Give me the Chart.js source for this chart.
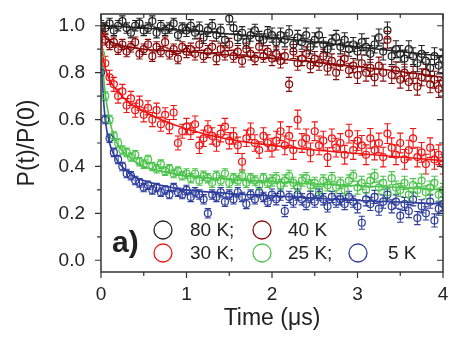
<!DOCTYPE html>
<html>
<head>
<meta charset="utf-8">
<script src="https://cdn.jsdelivr.net/npm/chart.js@4.4.1/dist/chart.umd.min.js"></script>
<style>
    body { margin: 0; background: #fff; }
    canvas { display: block; }
</style>
</head>
<body>
<canvas id="decay-chart" width="451" height="340"></canvas>
<script>
// time axis of the measured points (us)
const times = [0, 0.05, 0.1, 0.15, 0.2, 0.25, 0.3, 0.35, 0.4, 0.45, 0.5, 0.55, 0.6, 0.65, 0.7, 0.75, 0.8, 0.85, 0.9, 0.95, 1,
    1.05, 1.1, 1.15, 1.2, 1.25, 1.3, 1.35, 1.4, 1.45, 1.5, 1.55, 1.6, 1.65, 1.7, 1.75, 1.8, 1.85, 1.9, 1.95, 2,
    2.05, 2.1, 2.15, 2.2, 2.25, 2.3, 2.35, 2.4, 2.45, 2.5, 2.55, 2.6, 2.65, 2.7, 2.75, 2.8, 2.85, 2.9, 2.95, 3,
    3.05, 3.1, 3.15, 3.2, 3.25, 3.3, 3.35, 3.4, 3.45, 3.5, 3.55, 3.6, 3.65, 3.7, 3.75, 3.8, 3.85, 3.9, 3.95, 4];

const p80K = [1.00, 0.99, 1.01, 0.98, 1.00, 1.02, 0.99, 0.97, 1.00, 1.01, 0.98, 0.99, 1.02, 0.97, 1.00, 0.98, 0.99, 1.01, 0.96, 0.99, 0.98,
    1.00, 0.97, 0.99, 0.95, 0.98, 1.00, 0.96, 0.98, 0.94, 1.03, 0.99, 0.95, 0.97, 0.93, 0.96, 0.98, 0.95, 0.94, 0.97, 0.96,
    0.93, 0.96, 0.94, 0.97, 0.92, 0.95, 0.93, 0.96, 0.91, 0.94, 0.96, 0.92, 0.90, 0.93, 0.95, 0.91, 0.94, 0.90, 0.92, 0.89,
    0.93, 0.91, 0.88, 0.92, 0.95, 0.89, 0.98, 0.87, 0.90, 0.88, 0.86, 0.90, 0.87, 0.84, 0.88, 0.85, 0.82, 0.87, 0.83, 0.86];
const p40K = [0.99, 0.94, 0.92, 0.93, 0.90, 0.92, 0.89, 0.91, 0.93, 0.88, 0.90, 0.92, 0.87, 0.91, 0.89, 0.93, 0.88, 0.90, 0.86, 0.91, 0.89,
    0.90, 0.88, 0.92, 0.87, 0.89, 0.91, 0.86, 0.90, 0.88, 0.92, 0.87, 0.89, 0.85, 0.90, 0.88, 0.86, 0.91, 0.87, 0.89, 0.86,
    0.88, 0.85, 0.87, 0.75, 0.89, 0.84, 0.86, 0.88, 0.83, 0.86, 0.84, 0.87, 0.82, 0.85, 0.80, 0.84, 0.86, 0.81, 0.83, 0.79,
    0.84, 0.80, 0.82, 0.78, 0.83, 0.80, 0.94, 0.79, 0.81, 0.77, 0.80, 0.76, 0.79, 0.74, 0.78, 0.80, 0.75, 0.77, 0.73, 0.76];
const p30K = [0.97, 0.84, 0.78, 0.75, 0.70, 0.72, 0.66, 0.69, 0.64, 0.67, 0.62, 0.65, 0.60, 0.64, 0.58, 0.62, 0.57, 0.63, 0.50, 0.55, 0.57,
    0.55, 0.58, 0.49, 0.52, 0.56, 0.53, 0.50, 0.54, 0.57, 0.51, 0.53, 0.49, 0.42, 0.52, 0.55, 0.50, 0.47, 0.53, 0.50, 0.48,
    0.51, 0.55, 0.49, 0.53, 0.47, 0.60, 0.50, 0.52, 0.46, 0.55, 0.49, 0.51, 0.44, 0.52, 0.48, 0.50, 0.45, 0.54, 0.47, 0.51,
    0.49, 0.45, 0.52, 0.47, 0.50, 0.44, 0.54, 0.48, 0.45, 0.50, 0.43, 0.47, 0.52, 0.44, 0.46, 0.41, 0.48, 0.43, 0.45, 0.41];
const p25K = [0.88, 0.70, 0.60, 0.53, 0.50, 0.47, 0.46, 0.44, 0.45, 0.42, 0.41, 0.43, 0.40, 0.39, 0.41, 0.38, 0.39, 0.37, 0.38, 0.36, 0.37,
    0.35, 0.37, 0.34, 0.36, 0.35, 0.33, 0.36, 0.34, 0.37, 0.33, 0.35, 0.34, 0.36, 0.33, 0.35, 0.34, 0.32, 0.35, 0.33, 0.34,
    0.35, 0.32, 0.34, 0.36, 0.33, 0.31, 0.34, 0.35, 0.32, 0.33, 0.30, 0.34, 0.32, 0.35, 0.31, 0.33, 0.30, 0.34, 0.36, 0.31,
    0.33, 0.30, 0.34, 0.36, 0.31, 0.33, 0.29, 0.35, 0.31, 0.30, 0.33, 0.28, 0.32, 0.30, 0.34, 0.29, 0.31, 0.33, 0.28, 0.30];
const p5K = [0.80, 0.60, 0.52, 0.46, 0.43, 0.40, 0.37, 0.36, 0.34, 0.33, 0.31, 0.32, 0.30, 0.31, 0.29, 0.30, 0.28, 0.31, 0.29, 0.28, 0.30,
    0.27, 0.29, 0.28, 0.26, 0.20, 0.28, 0.27, 0.29, 0.25, 0.28, 0.26, 0.29, 0.27, 0.24, 0.28, 0.26, 0.29, 0.27, 0.25, 0.28,
    0.26, 0.28, 0.21, 0.27, 0.25, 0.28, 0.26, 0.24, 0.27, 0.25, 0.28, 0.26, 0.23, 0.27, 0.25, 0.26, 0.24, 0.27, 0.25, 0.23,
    0.16, 0.26, 0.24, 0.27, 0.22, 0.25, 0.28, 0.23, 0.25, 0.19, 0.24, 0.21, 0.26, 0.18, 0.23, 0.20, 0.25, 0.17, 0.22, 0.24];

// error bar half-heights for t in [0,1), [1,2), [2,3), [3,4]
const err80K = [0.022, 0.026, 0.030, 0.036];
const err40K = [0.022, 0.026, 0.030, 0.036];
const err30K = [0.030, 0.035, 0.040, 0.042];
const err25K = [0.018, 0.020, 0.024, 0.028];
const err5K = [0.018, 0.020, 0.024, 0.028];

// fitted curves
const fitTimes = [0, 0.02, 0.05, 0.1, 0.15, 0.2, 0.3, 0.4, 0.5, 0.7, 1.0, 1.5, 2, 2.5, 3, 3.5, 4];
const fit80K = [1.0, 1.0, 1.0, 0.999, 0.998, 0.997, 0.995, 0.993, 0.99, 0.985, 0.98, 0.965, 0.95, 0.93, 0.91, 0.89, 0.87];
const fit40K = [1.0, 0.97, 0.95, 0.935, 0.925, 0.92, 0.91, 0.905, 0.90, 0.895, 0.89, 0.875, 0.86, 0.845, 0.825, 0.805, 0.78];
const fit30K = [1.0, 0.88, 0.82, 0.77, 0.74, 0.72, 0.68, 0.655, 0.635, 0.60, 0.56, 0.515, 0.49, 0.47, 0.455, 0.44, 0.425];
const fit25K = [1.0, 0.83, 0.71, 0.60, 0.53, 0.49, 0.45, 0.42, 0.40, 0.38, 0.36, 0.345, 0.335, 0.325, 0.318, 0.31, 0.30];
const fit5K = [1.0, 0.75, 0.60, 0.50, 0.45, 0.42, 0.38, 0.355, 0.34, 0.32, 0.30, 0.285, 0.275, 0.265, 0.255, 0.248, 0.24];

const xTicks = [0, 1, 2, 3, 4];
const yTicks = [0.0, 0.2, 0.4, 0.6, 0.8, 1.0];

const series = [
    { label: '80 K;', values: p80K, err: err80K, fit: fit80K, color: '#222222' },
    { label: '40 K', values: p40K, err: err40K, fit: fit40K, color: '#8a0a0a' },
    { label: '30 K;', values: p30K, err: err30K, fit: fit30K, color: '#f01414' },
    { label: '25 K;', values: p25K, err: err25K, fit: fit25K, color: '#4cc44c' },
    { label: '5 K', values: p5K, err: err5K, fit: fit5K, color: '#2e3e9c' }
];

const textColor = '#222';
const fontFamily = '"Liberation Sans", Arial, sans-serif';

function toPoints(xs, ys) {
    return xs.map((x, i) => ({ x: x, y: ys[i] }));
}

const datasets = [];
series.forEach(s => {
    datasets.push({
        label: s.label,
        type: 'scatter',
        data: toPoints(times, s.values),
        errors: s.err,
        borderColor: s.color,
        backgroundColor: 'rgba(255,255,255,0)',
        pointRadius: 3.5,
        pointBorderWidth: 1.2,
        showLine: false
    });
});
series.forEach(s => {
    datasets.push({
        label: s.label + ' fit',
        type: 'line',
        data: toPoints(fitTimes, s.fit),
        borderColor: s.color,
        borderWidth: 1.6,
        pointRadius: 0,
        fill: false,
        cubicInterpolationMode: 'monotone'
    });
});

// error bars drawn under the circles
const errorBars = {
    id: 'errorBars',
    beforeDatasetsDraw(chart) {
        const ctx = chart.ctx;
        const yScale = chart.scales.y;
        const area = chart.chartArea;
        ctx.save();
        ctx.beginPath();
        ctx.rect(area.left, area.top, area.right - area.left, area.bottom - area.top);
        ctx.clip();
        chart.data.datasets.forEach((ds, di) => {
            if (!ds.errors) return;
            const meta = chart.getDatasetMeta(di);
            ctx.strokeStyle = ds.borderColor;
            ctx.lineWidth = 1.1;
            meta.data.forEach((pt, i) => {
                const d = ds.data[i];
                const e = ds.errors[Math.min(3, Math.floor(d.x))];
                const yTop = yScale.getPixelForValue(d.y + e);
                const yBot = yScale.getPixelForValue(d.y - e);
                ctx.beginPath();
                ctx.moveTo(pt.x, yTop);
                ctx.lineTo(pt.x, yBot);
                ctx.moveTo(pt.x - 3.2, yTop);
                ctx.lineTo(pt.x + 3.2, yTop);
                ctx.moveTo(pt.x - 3.2, yBot);
                ctx.lineTo(pt.x + 3.2, yBot);
                ctx.stroke();
            });
        });
        ctx.restore();
    }
};

// frame, tick marks, legend and panel label
const decorations = {
    id: 'decorations',
    afterDraw(chart) {
        const ctx = chart.ctx;
        const a = chart.chartArea;
        const xs = chart.scales.x;
        const ys = chart.scales.y;
        ctx.save();
        ctx.strokeStyle = '#333';
        ctx.lineWidth = 1.5;
        ctx.strokeRect(a.left, a.top, a.right - a.left, a.bottom - a.top);

        ctx.lineWidth = 1.2;
        ctx.beginPath();
        for (let t = 0; t <= 4.001; t += 0.5) {
            const px = xs.getPixelForValue(t);
            const len = Math.abs(t - Math.round(t)) < 0.01 ? 6 : 4;
            ctx.moveTo(px, a.bottom);
            ctx.lineTo(px, a.bottom + len);
            ctx.moveTo(px, a.top);
            ctx.lineTo(px, a.top + len);
        }
        for (let k = 0; k <= 10; k++) {
            const py = ys.getPixelForValue(k / 10);
            const len = k % 2 === 0 ? 6 : 4;
            ctx.moveTo(a.left, py);
            ctx.lineTo(a.left - len, py);
            ctx.moveTo(a.right, py);
            ctx.lineTo(a.right - len, py);
        }
        ctx.stroke();

        // legend
        const rows = [
            [{ s: series[0], cx: 163, tx: 190 }, { s: series[1], cx: 262, tx: 288 }],
            [{ s: series[2], cx: 163, tx: 190 }, { s: series[3], cx: 262, tx: 288 }, { s: series[4], cx: 358, tx: 388 }]
        ];
        const rowY = [230, 253];
        ctx.font = '19px ' + fontFamily;
        ctx.textBaseline = 'middle';
        ctx.textAlign = 'left';
        rows.forEach((row, r) => {
            row.forEach(item => {
                ctx.strokeStyle = item.s.color;
                ctx.lineWidth = 1.3;
                ctx.beginPath();
                ctx.arc(item.cx, rowY[r], 9, 0, Math.PI * 2);
                ctx.stroke();
                ctx.fillStyle = textColor;
                ctx.fillText(item.s.label, item.tx, rowY[r] + 1);
            });
        });

        ctx.font = 'bold 30px ' + fontFamily;
        ctx.textBaseline = 'alphabetic';
        ctx.fillStyle = textColor;
        ctx.fillText('a)', 112, 252);
        ctx.restore();
    }
};

new Chart(document.getElementById('decay-chart').getContext('2d'), {
    type: 'scatter',
    data: { datasets: datasets },
    options: {
        responsive: false,
        animation: false,
        layout: { padding: { top: 14, right: 8, left: 0, bottom: 0 } },
        plugins: {
            legend: { display: false },
            tooltip: { enabled: false }
        },
        scales: {
            x: {
                type: 'linear',
                min: 0,
                max: 4,
                afterBuildTicks: scale => { scale.ticks = xTicks.map(v => ({ value: v })); },
                afterFit: scale => {
                    scale.height = 68;
                    scale.paddingLeft = 0;
                    scale.paddingRight = 0;
                },
                grid: { display: false },
                border: { display: false },
                ticks: {
                    color: textColor,
                    font: { family: fontFamily, size: 19 },
                    padding: 3,
                    maxRotation: 0,
                    autoSkip: false
                },
                title: {
                    display: true,
                    text: 'Time (\u03bcs)',
                    color: textColor,
                    font: { family: fontFamily, size: 23 },
                    padding: { top: 0, bottom: 8 }
                }
            },
            y: {
                type: 'linear',
                min: -0.05,
                max: 1.05,
                afterBuildTicks: scale => { scale.ticks = yTicks.map(v => ({ value: v })); },
                afterFit: scale => {
                    scale.width = 101;
                    scale.paddingTop = 0;
                    scale.paddingBottom = 0;
                },
                grid: { display: false },
                border: { display: false },
                ticks: {
                    color: textColor,
                    font: { family: fontFamily, size: 19 },
                    padding: 8,
                    autoSkip: false,
                    callback: v => v.toFixed(1)
                },
                title: {
                    display: true,
                    text: 'P(t)/P(0)',
                    color: textColor,
                    font: { family: fontFamily, size: 23 },
                    padding: { top: 14, bottom: 0 }
                }
            }
        }
    },
    plugins: [errorBars, decorations]
});
</script>
</body>
</html>
